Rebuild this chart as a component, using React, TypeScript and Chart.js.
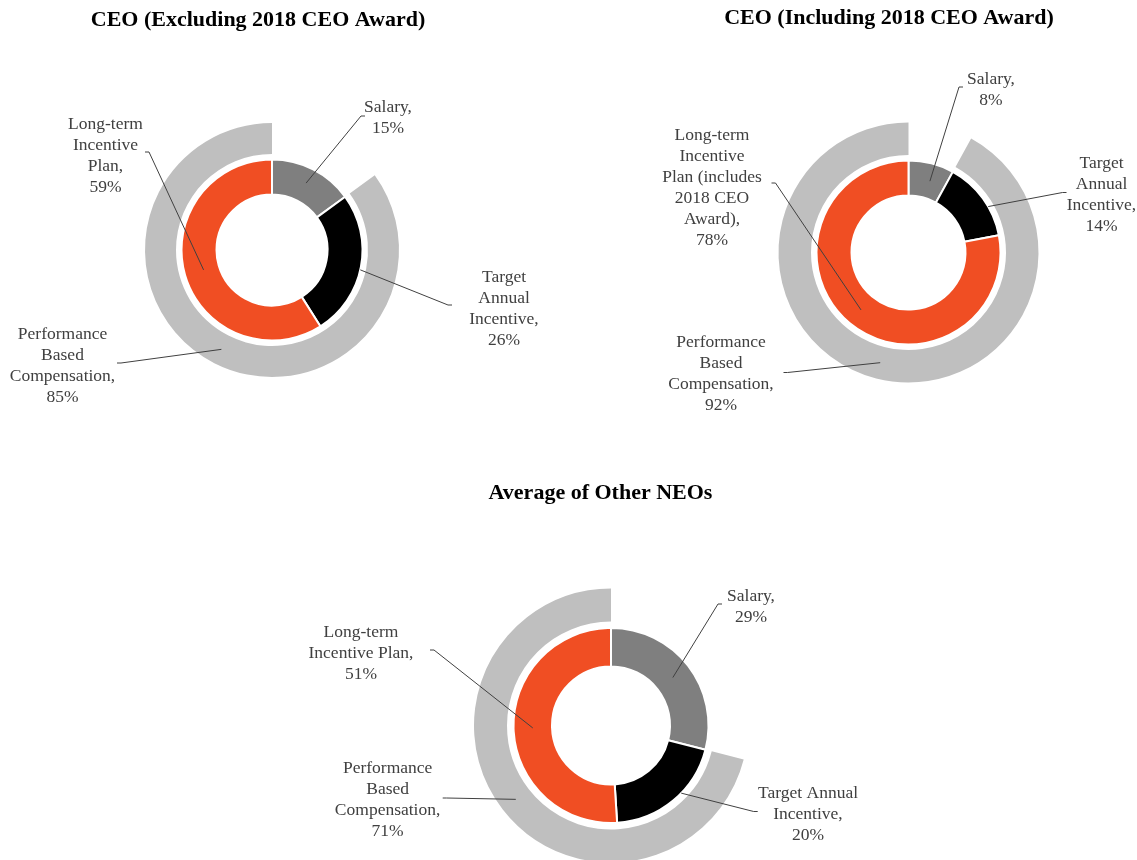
import React, { useEffect, useRef } from "react";
import { Chart, registerables } from "chart.js";

Chart.register(...registerables);

// ---------- data ----------
const categories = ["Salary", "Target Annual Incentive", "Long-term Incentive Plan"];
const outerCategories = ["Salary (fixed)", "Performance Based Compensation"];

const chartTitles = [
  "CEO (Excluding 2018 CEO Award)",
  "CEO (Including 2018 CEO Award)",
  "Average of Other NEOs",
];

const ceoExclValues = [15, 26, 59];
const ceoExclPerformance = [15, 85];
const ceoInclValues = [8, 14, 78];
const ceoInclPerformance = [8, 92];
const neoValues = [29, 20, 51];
const neoPerformance = [29, 71];

const ceoExclLabelText = [["Salary,"], ["Target", "Annual", "Incentive,"], ["Long-term", "Incentive", "Plan,"]];
const ceoExclPerfText = ["Performance", "Based", "Compensation,"];
const ceoInclLabelText = [["Salary,"], ["Target", "Annual", "Incentive,"], ["Long-term", "Incentive", "Plan (includes", "2018 CEO", "Award),"]];
const ceoInclPerfText = ["Performance", "Based", "Compensation,"];
const neoLabelText = [["Salary,"], ["Target Annual", "Incentive,"], ["Long-term", "Incentive Plan,"]];
const neoPerfText = ["Performance", "Based", "Compensation,"];

// ---------- styles ----------
const SALARY_COLOR = "#7F7F7F";
const TAI_COLOR = "#000000";
const LTI_COLOR = "#F04E23";
const PBC_COLOR = "#BFBFBF";
const TEXT_COLOR = "#404040";
const LINE_COLOR = "#404040";
const LABEL_FONT = '17.5px "Liberation Serif", "Times New Roman", serif';
const TITLE_FONT = 'bold 22px "Liberation Serif", "Times New Roman", serif';
const LINE_HEIGHT = 21;

type Callout = {
  ds: number; idx: number; t: number; r: number;
  ex: number; ey: number; tick: number;
  tx: number; ty: number; lines: string[];
};

type Geo = {
  rect: { left: number; top: number; w: number; h: number };
  cx: number; cy: number; R: number;
  outerW: number; gapW: number; innerW: number; hole: number;
  titleDx: number; titleDy: number;
  callouts: Callout[];
};

function pct(v: number) { return `${v}%`; }

const specs: { title: string; values: number[]; perf: number[]; geo: Geo }[] = [
  {
    title: chartTitles[0], values: ceoExclValues, perf: ceoExclPerformance,
    geo: {
      rect: { left: 0, top: 0, w: 570, h: 440 },
      cx: 272, cy: 250, R: 127, outerW: 31, gapW: 5.5, innerW: 35, hole: 55.5,
      titleDx: -14, titleDy: -230,
      callouts: [
        { ds: 2, idx: 0, t: 0.5, r: 0.56, ex: 89, ey: -134, tick: 4, tx: 116, ty: -143, lines: [...ceoExclLabelText[0], pct(ceoExclValues[0])] },
        { ds: 2, idx: 1, t: 0.52, r: 1.0, ex: 176, ey: 55, tick: 4, tx: 232, ty: 27, lines: [...ceoExclLabelText[1], pct(ceoExclValues[1])] },
        { ds: 2, idx: 2, t: 0.5, r: 0.45, ex: -123, ey: -98, tick: -4, tx: -166.5, ty: -126, lines: [...ceoExclLabelText[2], pct(ceoExclValues[2])] },
        { ds: 0, idx: 1, t: 0.5, r: 0.5, ex: -151, ey: 113, tick: -4, tx: -209.5, ty: 84, lines: [...ceoExclPerfText, pct(ceoExclPerformance[1])] },
      ],
    },
  },
  {
    title: chartTitles[1], values: ceoInclValues, perf: ceoInclPerformance,
    geo: {
      rect: { left: 570, top: 0, w: 567, h: 440 },
      cx: 908.5, cy: 252.5, R: 130, outerW: 32.5, gapW: 5.5, innerW: 35, hole: 57,
      titleDx: -19.5, titleDy: -234.5,
      callouts: [
        { ds: 2, idx: 0, t: 0.58, r: 0.5, ex: 50.5, ey: -165.5, tick: 4, tx: 82.5, ty: -173.5, lines: [...ceoInclLabelText[0], pct(ceoInclValues[0])] },
        { ds: 2, idx: 1, t: 0.62, r: 1.0, ex: 154, ey: -60, tick: 4, tx: 193, ty: -89.5, lines: [...ceoInclLabelText[1], pct(ceoInclValues[1])] },
        { ds: 2, idx: 2, t: 0.5, r: 0.5, ex: -133, ey: -69.5, tick: -4, tx: -196.5, ty: -117.5, lines: [...ceoInclLabelText[2], pct(ceoInclValues[2])] },
        { ds: 0, idx: 1, t: 0.5, r: 0.5, ex: -121, ey: 120, tick: -4, tx: -187.5, ty: 89.5, lines: [...ceoInclPerfText, pct(ceoInclPerformance[1])] },
      ],
    },
  },
  {
    title: chartTitles[2], values: neoValues, perf: neoPerformance,
    geo: {
      rect: { left: 0, top: 440, w: 1137, h: 420 },
      cx: 611, cy: 725.5, R: 137, outerW: 33, gapW: 6.5, innerW: 38.5, hole: 59,
      titleDx: -10.5, titleDy: -232.5,
      callouts: [
        { ds: 2, idx: 0, t: 0.5, r: 0.5, ex: 107, ey: -121.5, tick: 4, tx: 140, ty: -129.5, lines: [...neoLabelText[0], pct(neoValues[0])] },
        { ds: 2, idx: 1, t: 0.41, r: 1.0, ex: 142.7, ey: 86, tick: 4, tx: 197, ty: 67.5, lines: [...neoLabelText[1], pct(neoValues[1])] },
        { ds: 2, idx: 2, t: 0.5, r: 0.5, ex: -177, ey: -75.5, tick: -4, tx: -250, ty: -93.5, lines: [...neoLabelText[2], pct(neoValues[2])] },
        { ds: 0, idx: 1, t: 0.5, r: 0.5, ex: -164.3, ey: 72.5, tick: -4, tx: -223.4, ty: 42.5, lines: [...neoPerfText, pct(neoPerformance[1])] },
      ],
    },
  },
];

function makeCalloutPlugin(title: string, geo: Geo) {
  return {
    id: "callouts",
    afterDatasetsDraw(chart: any) {
      const ctx = chart.ctx as CanvasRenderingContext2D;
      const center = chart.getDatasetMeta(2).data[0] as any;
      const cx = center.x;
      const cy = center.y;
      ctx.save();
      ctx.fillStyle = "#000";
      ctx.font = TITLE_FONT;
      ctx.textAlign = "center";
      ctx.textBaseline = "middle";
      ctx.fillText(title, cx + geo.titleDx, cy + geo.titleDy);

      for (const c of geo.callouts) {
        const el = chart.getDatasetMeta(c.ds).data[c.idx] as any;
        const a = el.startAngle + (el.endAngle - el.startAngle) * c.t;
        const rr = el.innerRadius + (el.outerRadius - el.innerRadius) * c.r;
        const ax = el.x + Math.cos(a) * rr;
        const ay = el.y + Math.sin(a) * rr;
        ctx.beginPath();
        ctx.strokeStyle = LINE_COLOR;
        ctx.lineWidth = 1;
        ctx.moveTo(ax, ay);
        ctx.lineTo(cx + c.ex, cy + c.ey);
        ctx.lineTo(cx + c.ex + c.tick, cy + c.ey);
        ctx.stroke();

        ctx.fillStyle = TEXT_COLOR;
        ctx.font = LABEL_FONT;
        c.lines.forEach((line, i) => {
          ctx.fillText(line, cx + c.tx, cy + c.ty + i * LINE_HEIGHT);
        });
      }
      ctx.restore();
    },
  };
}

function DonutPanel({ spec }: { spec: (typeof specs)[number] }) {
  const ref = useRef<HTMLCanvasElement | null>(null);
  useEffect(() => {
    if (!ref.current) return;
    const g = spec.geo;
    const P = 50;
    const padding = {
      left: g.cx - g.rect.left - P,
      right: g.rect.left + g.rect.w - g.cx - P,
      top: g.cy - g.rect.top - P,
      bottom: g.rect.top + g.rect.h - g.cy - P,
    };
    const chart = new Chart(ref.current, {
      type: "doughnut",
      data: {
        labels: categories,
        datasets: [
          {
            label: outerCategories[1],
            data: spec.perf,
            backgroundColor: ["rgba(0,0,0,0)", PBC_COLOR],
            borderWidth: 0,
            weight: g.outerW,
            clip: false,
          } as any,
          {
            label: "spacer",
            data: [100],
            backgroundColor: ["rgba(0,0,0,0)"],
            borderWidth: 0,
            weight: g.gapW,
            clip: false,
          } as any,
          {
            label: "Pay mix",
            data: spec.values,
            backgroundColor: [SALARY_COLOR, TAI_COLOR, LTI_COLOR],
            borderColor: "#ffffff",
            borderWidth: 2,
            weight: g.innerW,
            clip: false,
          } as any,
        ],
      },
      options: {
        animation: false,
        responsive: false,
        events: [],
        radius: g.R,
        cutout: `${(g.hole / g.R) * 100}%`,
        layout: { padding },
        plugins: {
          legend: { display: false },
          tooltip: { enabled: false },
          title: { display: false },
        },
      } as any,
      plugins: [makeCalloutPlugin(spec.title, g)],
    });
    return () => chart.destroy();
  }, [spec]);
  const r = spec.geo.rect;
  return (
    <canvas
      ref={ref}
      width={r.w}
      height={r.h}
      style={{ position: "absolute", left: r.left, top: r.top, width: r.w, height: r.h }}
    />
  );
}

export default function App() {
  return (
    <div style={{ position: "absolute", left: 0, top: 0, width: 1137, height: 860, background: "#fff", overflow: "hidden" }}>
      {specs.map((s, i) => (
        <DonutPanel key={i} spec={s} />
      ))}
    </div>
  );
}
